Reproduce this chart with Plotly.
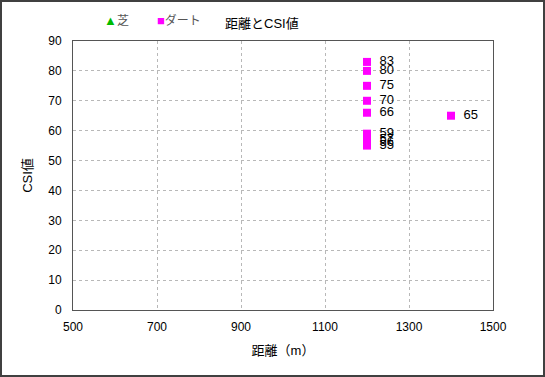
import plotly.graph_objects as go

# Data
turf_dist = []
turf_csi = []
dirt_dist = [1200, 1200, 1200, 1200, 1200, 1200, 1200, 1200, 1200, 1400]
dirt_csi = [83, 80, 75, 70, 66, 59, 57, 56, 55, 65]
x_ticks = [500, 700, 900, 1100, 1300, 1500]
y_ticks = [0, 10, 20, 30, 40, 50, 60, 70, 80, 90]

FONT = "Liberation Sans, Noto Sans CJK JP, sans-serif"

fig = go.Figure()
fig.add_trace(go.Scatter(
    x=turf_dist if turf_dist else [None], y=turf_csi if turf_csi else [None],
    mode="markers", name="芝", showlegend=False,
    marker=dict(symbol="triangle-up", color="#00CC00", size=9,
                line=dict(color="#006600", width=0.5)),
))
fig.add_trace(go.Scatter(
    x=dirt_dist, y=dirt_csi, mode="markers+text", name="ダート", showlegend=False,
    text=["\u2002" + str(v) for v in dirt_csi], textposition="middle right",
    textfont=dict(size=13, color="black", family=FONT),
    marker=dict(symbol="square", color="#FF00FF", size=8),
))

L, R, T, B = 73, 52, 41, 67
W, H = 545, 377
pw, ph = W - L - R, H - T - B

def px(xp):
    return (xp - L) / pw

def py(yp):
    return (H - B - yp) / ph

fig.add_shape(type="rect", xref="paper", yref="paper",
              x0=px(1), x1=px(W - 1), y0=py(H - 1), y1=py(1),
              line=dict(color="#404040", width=2), fillcolor="rgba(0,0,0,0)")

# legend (as text)
fig.add_annotation(x=px(102), y=py(20), xref="paper", yref="paper",
                   xanchor="left", yanchor="middle", showarrow=False,
                   text="<span style='color:#00BB00;font-size:13px'>▲</span>芝",
                   font=dict(size=12, color="#555555", family=FONT))
fig.add_annotation(x=px(155), y=py(20), xref="paper", yref="paper",
                   xanchor="left", yanchor="middle", showarrow=False,
                   text="<span style='color:#FF00FF;font-size:13px'>■</span>ダート",
                   font=dict(size=12, color="#555555", family=FONT))

fig.add_annotation(x=100, y=13, xref="x", yref="y", xanchor="left", yanchor="middle",
                   text="©Caniの競馬データ研究室", showarrow=False,
                   font=dict(size=12, color="#9999FF", family=FONT))
fig.add_annotation(x=px(262), y=py(24), xref="paper", yref="paper",
                   xanchor="center", yanchor="middle",
                   text="距離とCSI値", showarrow=False,
                   font=dict(size=13, color="black", family=FONT))

fig.update_layout(
    width=W, height=H,
    margin=dict(l=L, r=R, t=T, b=B),
    paper_bgcolor="white", plot_bgcolor="white",
    font=dict(family=FONT, size=12, color="black"),
    showlegend=False,
    xaxis=dict(range=[500, 1500], tickvals=x_ticks, ticks="outside", ticklen=6,
               tickcolor="rgba(0,0,0,0)",
               showgrid=True, gridcolor="#B8B8B8", griddash="dot", gridwidth=1,
               showline=True, linecolor="#555555", linewidth=1, mirror=True,
               zeroline=False, tickfont=dict(size=12),
               title=dict(text="距離（m）", font=dict(size=13), standoff=12)),
    yaxis=dict(range=[0, 90], tickvals=y_ticks, ticks="outside", ticklen=8,
               tickcolor="rgba(0,0,0,0)",
               showgrid=True, gridcolor="#B8B8B8", griddash="dot", gridwidth=1,
               showline=True, linecolor="#555555", linewidth=1, mirror=True,
               zeroline=False, tickfont=dict(size=12),
               title=dict(text="CSI値", font=dict(size=13), standoff=12)),
)

fig.write_html("out.html", config={"displayModeBar": False},
               post_script="document.body.style.margin='0';document.body.style.overflow='hidden';")
